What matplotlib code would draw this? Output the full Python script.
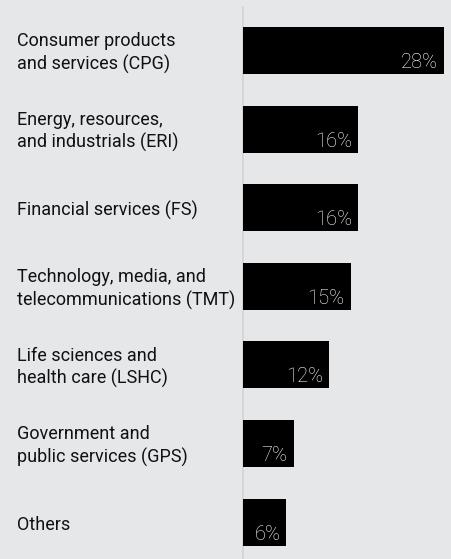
import matplotlib
matplotlib.use('Agg')
import matplotlib.pyplot as plt

categories = [
    'Consumer products\nand services (CPG)',
    'Energy, resources,\nand industrials (ERI)',
    'Financial services (FS)',
    'Technology, media, and\ntelecommunications (TMT)',
    'Life sciences and\nhealth care (LSHC)',
    'Government and\npublic services (GPS)',
    'Others',
]
shares = [28, 16, 16, 15, 12, 7, 6]
value_labels = ['28%', '16%', '16%', '15%', '12%', '7%', '6%']

plt.rcParams['font.family'] = ['Roboto', 'DejaVu Sans']

bg = '#e6e7e9'
W, H = 452, 559
fig = plt.figure(figsize=(W / 100, H / 100), dpi=100, facecolor=bg)

# axes placed in pixels: x=0 at 243.5 px, 1% = 200/28 px
x0 = 243.5
px_per_unit = 200 / 28
ax = fig.add_axes([x0 / W, 0, 1 - x0 / W, 1])
ax.set_facecolor(bg)
ax.set_xlim(0, (W - x0) / px_per_unit)
step = 78.6
c0 = 50.5
ax.set_ylim((H - c0) / step, -c0 / step)
ax.axis('off')

ypos = list(range(len(shares)))
ax.plot([0, 0], [-(c0 - 7) / step, (H - c0) / step], color='#d2d3d5', lw=1.2,
        zorder=1, clip_on=False)
ax.barh(ypos, shares, height=47 / step, color='black', left=0, zorder=2)

for y, v, lab in zip(ypos, shares, value_labels):
    ax.text(v - 6 / px_per_unit, y + 17.5 / step, lab, color='white', fontsize=14.5,
            fontweight='light', ha='right', va='baseline', zorder=3)

for y, cat in zip(ypos, categories):
    ax.text(-(x0 - 17) / px_per_unit, y + 2.5 / step, cat, color='#111111',
            fontsize=13, ha='left', va='center', linespacing=1.3,
            clip_on=False)

fig.savefig('out.png', dpi=100, facecolor=bg)
